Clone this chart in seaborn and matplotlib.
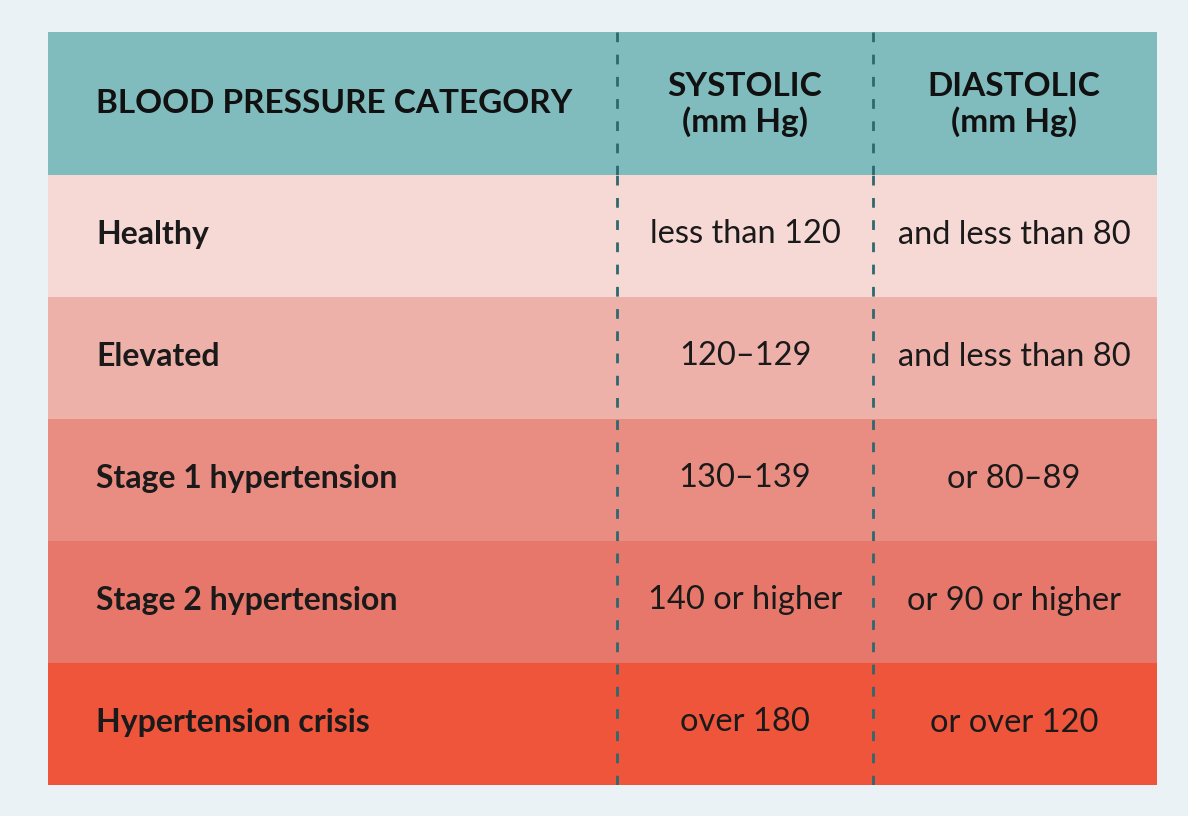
import matplotlib
matplotlib.use("Agg")

import numpy as np
import matplotlib.pyplot as plt
import seaborn as sns
from matplotlib.colors import ListedColormap

# table content
header = ["BLOOD PRESSURE CATEGORY", "SYSTOLIC\n(mm Hg)", "DIASTOLIC\n(mm Hg)"]
categories = ["Healthy", "Elevated", "Stage 1 hypertension",
              "Stage 2 hypertension", "Hypertension crisis"]
systolic = ["less than 120", "120\u2013129", "130\u2013139", "140 or higher", "over 180"]
diastolic = ["and less than 80", "and less than 80", "or 80\u201389",
             "or 90 or higher", "or over 120"]
severity = [0, 1, 2, 3, 4]

row_colors = ["#F6D8D4", "#EEB1AA", "#E98C82", "#E6776A", "#EF553B"]
header_color = "#80BBBE"
bg_color = "#EAF2F5"
dash_color = "#2C6870"

sns.set_theme(style="white")
plt.rcParams["font.family"] = ["Lato", "DejaVu Sans"]

fig = plt.figure(figsize=(11.88, 8.16), dpi=100)
fig.patch.set_facecolor(bg_color)

W, H = 1188, 816
left, right = 48, 1157
top, head_bot, bottom = 32, 175, 785

ax_h = fig.add_axes([left / W, 1 - head_bot / H, (right - left) / W, (head_bot - top) / H])
ax_b = fig.add_axes([left / W, 1 - bottom / H, (right - left) / W, (bottom - head_bot) / H])

# body rows coloured by severity
mat = np.array(severity).reshape(-1, 1)
sns.heatmap(mat, ax=ax_b, cmap=ListedColormap(row_colors), cbar=False,
            xticklabels=False, yticklabels=False, vmin=-0.5, vmax=4.5)

ax_h.set_facecolor(header_color)
ax_h.set_xlim(0, 1)
ax_h.set_ylim(0, 1)
ax_h.set_xticks([])
ax_h.set_yticks([])
for ax in (ax_h, ax_b):
    for s in ax.spines.values():
        s.set_visible(False)

# column geometry (fractions of table width)
span = right - left
x_label = (96 - left) / span
x_div = [(617 - left) / span, (873 - left) / span]
x_sys = (745 - left) / span
x_dia = (1014 - left) / span

ax_h.text(x_label, 0.5, header[0], ha="left", va="center",
          fontsize=24, fontweight="bold", color="#111111")
ax_h.text(x_sys, 0.49, header[1], ha="center", va="center",
          fontsize=24, fontweight="bold", color="#111111", linespacing=1.2)
ax_h.text(x_dia, 0.49, header[2], ha="center", va="center",
          fontsize=24, fontweight="bold", color="#111111", linespacing=1.2)

for i, (cat, s, d) in enumerate(zip(categories, systolic, diastolic)):
    y = i + 0.49
    ax_b.text(x_label, y, cat, ha="left", va="center",
              fontsize=23, fontweight="bold", color="#1a1a1a")
    ax_b.text(x_sys, y - 0.01, s, ha="center", va="center", fontsize=23.5, color="#1a1a1a")
    ax_b.text(x_dia, y, d, ha="center", va="center", fontsize=23.5, color="#1a1a1a")

# dashed column dividers
for xd in x_div:
    ax_h.axvline(xd, color=dash_color, lw=2, dashes=(3.5, 4.5))
    ax_b.axvline(xd, color=dash_color, lw=2, dashes=(3.5, 4.5))

fig.savefig("out.png", dpi=100, facecolor=bg_color)
